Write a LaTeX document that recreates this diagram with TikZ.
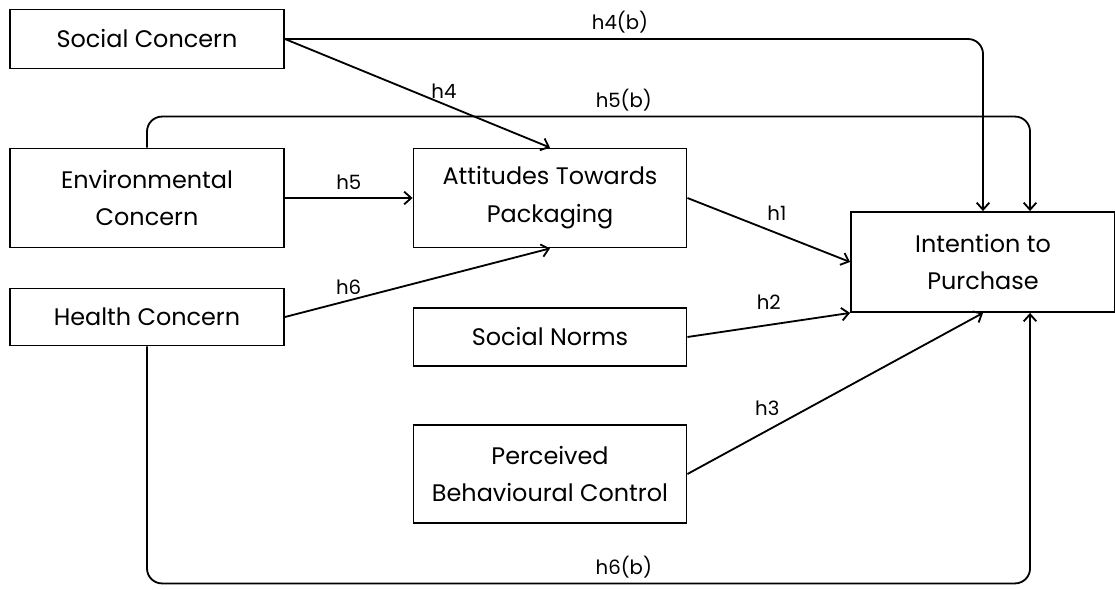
\documentclass[tikz,border=0pt]{standalone}
\usepackage{fontspec}
\setmainfont{Poppins}
\usetikzlibrary{arrows.meta}

\begin{document}
\begin{tikzpicture}[x=0.025cm,y=-0.025cm,
    box/.style={draw,line width=1.3pt,align=center,inner sep=0pt,
      font=\fontsize{17}{27}\selectfont},
    link/.style={line width=1.3pt,rounded corners=0.375cm,
      -{Straight Barb[length=5pt,width=9pt]}},
    hlab/.style={font=\fontsize{14}{15}\selectfont}]
  \useasboundingbox (0,0) rectangle (1115,590);
  % left column
  \node[box,minimum width=6.85cm,minimum height=1.475cm] (social) at (147,39) {Social Concern};
  \node[box,minimum width=6.85cm,minimum height=2.475cm] (env) at (147,198) {Environmental\\Concern};
  \node[box,minimum width=6.85cm,minimum height=1.425cm] (health) at (147,317) {Health Concern};
  % middle column
  \node[box,minimum width=6.825cm,minimum height=2.475cm] (att) at (550,198) {Attitudes Towards\\Packaging};
  \node[box,minimum width=6.825cm,minimum height=1.45cm] (norms) at (550,337) {Social Norms};
  \node[box,minimum width=6.825cm,minimum height=2.45cm] (pbc) at (550,474) {Perceived\\Behavioural Control};
  % outcome
  \node[box,minimum width=6.6cm,minimum height=2.5cm] (intent) at (983,262) {Intention to\\Purchase};

  \draw[link] (social.east) -- node[hlab,pos=0.6,above] {h4} (att.north);
  \draw[link] (social.east) -| node[hlab,pos=0.24,above] {h4(b)} (intent.north);
  \draw[link] (env.east) -- node[hlab,above=2pt] {h5} (att.west);
  \draw[link] (env.north) -- ++(0,-31) -| node[hlab,pos=0.27,above] {h5(b)} ([xshift=1.175cm]intent.north);
  \draw[link] (health.east) -- node[hlab,pos=0.24,above] {h6} (att.south);
  \draw[link] (health.south) -- ++(0,237) -| node[hlab,pos=0.27,above] {h6(b)} ([xshift=1.175cm]intent.south);
  \draw[link] (att.east) -- node[hlab,pos=0.55,above=5pt] {h1} (intent.west);
  \draw[link] (norms.east) -- node[hlab,pos=0.5,above=7pt] {h2} (intent.south west);
  \draw[link] (pbc.east) -- node[hlab,pos=0.33,above left] {h3} (intent.south);
\end{tikzpicture}
\end{document}
